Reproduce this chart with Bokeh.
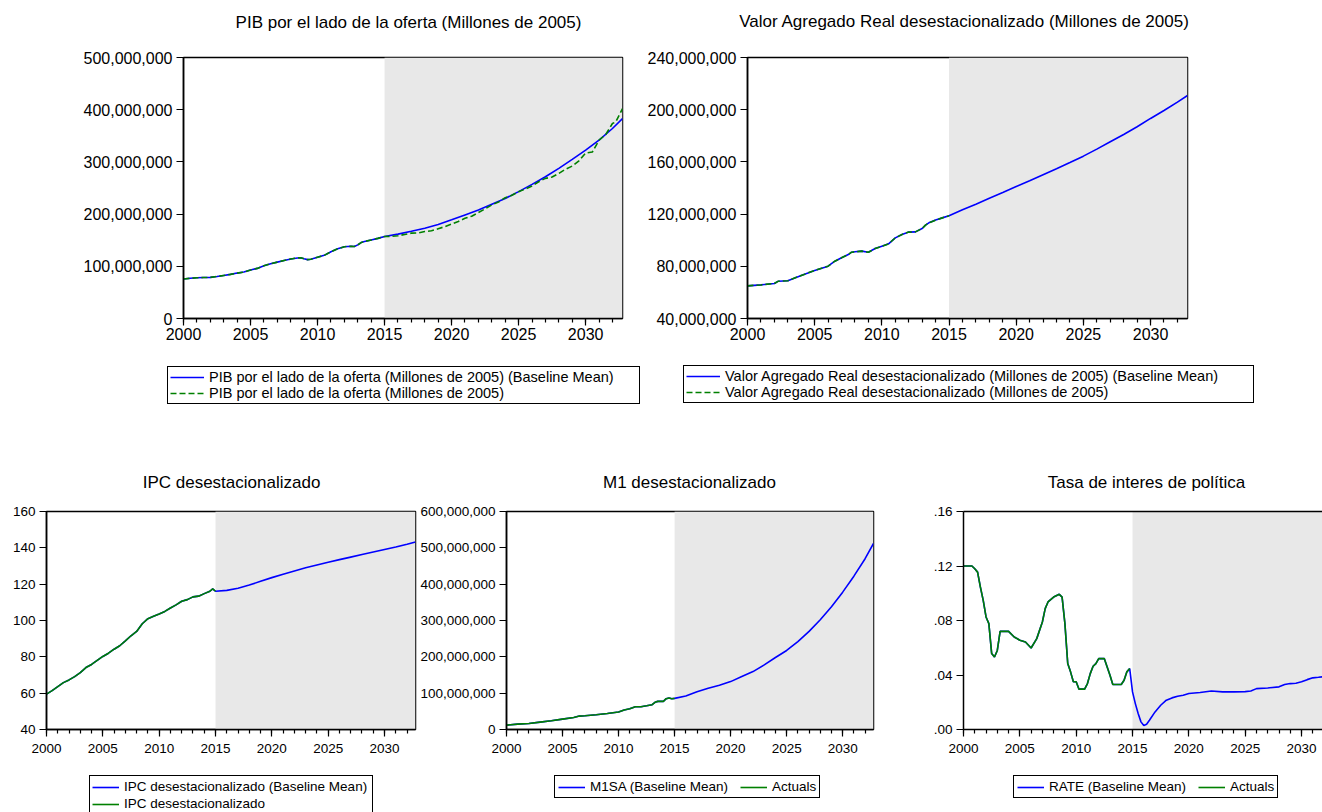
import numpy as np
from bokeh.plotting import figure
from bokeh.models import (Range1d, FixedTicker, NumeralTickFormatter, CustomJSTickFormatter,
                          BoxAnnotation, Legend, LegendItem, Label, LinearAxis)
from bokeh.layouts import column, row
from bokeh.embed import file_html
from bokeh.resources import INLINE

# ---------------- data ----------------
FORECAST_START = 2015
X_END = 2032.75

# PIB (millions)
pib_hist_x = [2000, 2000.5, 2001, 2001.5, 2002, 2002.5, 2003, 2003.5, 2004, 2004.5, 2005, 2005.5,
              2006, 2006.5, 2007, 2007.5, 2008, 2008.5, 2008.75, 2009, 2009.25, 2009.5, 2010, 2010.5,
              2011, 2011.5, 2012, 2012.5, 2012.75, 2013, 2013.25, 2013.5, 2014, 2014.5, 2015]
pib_hist = [75.7, 77.0, 78.0, 78.5, 78.8, 80.5, 82.5, 84.5, 87.0, 89.0, 93.0, 96.0,
            101.0, 105.0, 108.0, 111.0, 114.0, 116.0, 116.5, 114.5, 112.8, 113.5, 117.5, 121.0,
            128.0, 133.5, 137.5, 138.5, 138.0, 141.0, 145.5, 147.5, 150.5, 153.5, 157.0]
pib_mean_fc_x = [2016, 2017, 2018, 2019, 2020, 2021, 2022, 2023, 2024, 2025, 2026, 2027, 2028,
                 2029, 2030, 2031, 2032, 2032.75]
pib_mean_fc = [161.6, 167.0, 173.0, 180.0, 189.0, 198.5, 208.0, 219.0, 230.0, 243.0, 257.0, 271.6,
               287.6, 304.7, 322.5, 341.6, 364.0, 383.0]
pib_act_fc_x = [2015.5, 2016, 2016.5, 2017, 2017.5, 2018, 2018.5, 2019, 2019.5, 2020, 2020.5, 2021,
                2021.5, 2022, 2022.5, 2023, 2023.5, 2024, 2024.5, 2025, 2025.5, 2026, 2026.5, 2027,
                2027.5, 2028, 2028.5, 2029, 2029.5, 2030, 2030.5, 2031, 2031.5, 2032, 2032.25, 2032.75]
pib_act_fc = [157.5, 158.4, 161.0, 163.5, 164.0, 166.6, 168.0, 172.0, 176.0, 181.0, 186.0, 192.0,
              196.0, 203.0, 210.0, 217.6, 223.0, 231.5, 236.0, 243.0, 248.0, 254.0, 262.0, 268.5,
              271.0, 278.0, 286.0, 292.0, 302.0, 317.0, 319.0, 341.6, 352.5, 373.5, 376.6, 402.0]

# Valor agregado (millions)
va_hist_x = [2000, 2001, 2002, 2002.3, 2003, 2004, 2005, 2006, 2006.5, 2007, 2007.5, 2007.75, 2008,
             2008.5, 2009, 2009.5, 2010, 2010.5, 2011, 2011.5, 2012, 2012.5, 2013, 2013.25, 2013.5,
             2014, 2014.5, 2015]
va_hist = [65.0, 65.8, 66.8, 68.6, 68.9, 73.0, 76.8, 80.1, 83.9, 86.5, 89.0, 90.8, 91.1,
           91.6, 90.8, 93.6, 95.4, 97.2, 101.8, 104.4, 106.2, 106.4, 109.0, 111.5, 113.3,
           115.4, 117.1, 118.7]
va_fc_x = [2016, 2017, 2018, 2019, 2020, 2021, 2022, 2023, 2024, 2025, 2026, 2027, 2028, 2029,
           2030, 2031, 2032, 2032.75]
va_fc = [123.3, 127.6, 132.2, 136.6, 141.1, 145.5, 150.1, 154.7, 159.5, 164.4, 169.8, 175.4,
         181.0, 186.9, 193.3, 199.4, 205.8, 210.9]

# IPC
ipc_hist_x = [2000, 2000.5, 2001, 2001.5, 2002, 2002.5, 2003, 2003.5, 2004, 2004.5, 2005, 2005.5,
              2006, 2006.5, 2007, 2007.5, 2008, 2008.5, 2009, 2009.5, 2010, 2010.5, 2011, 2011.5,
              2012, 2012.5, 2013, 2013.5, 2014, 2014.5, 2014.75, 2015]
ipc_hist = [59.5, 61.4, 63.6, 65.8, 67.3, 69.1, 71.3, 74.1, 75.8, 78.0, 80.2, 82.0,
            84.2, 86.1, 88.8, 91.6, 94.0, 98.2, 101.0, 102.3, 103.6, 105.0, 106.9, 108.6,
            110.6, 111.5, 113.0, 113.4, 114.8, 116.1, 117.4, 116.1]
ipc_fc_x = [2016, 2017, 2018, 2019, 2020, 2021, 2022, 2023, 2024, 2025, 2026, 2027, 2028, 2029,
            2030, 2031, 2032, 2032.75]
ipc_fc = [116.6, 117.8, 119.5, 121.6, 123.6, 125.5, 127.3, 129.0, 130.6, 132.1, 133.5, 134.9,
          136.3, 137.7, 139.1, 140.5, 142.0, 143.2]

# M1 (millions)
m1_hist_x = [2000, 2001, 2002, 2003, 2004, 2005, 2006, 2006.5, 2007, 2008, 2009, 2010, 2010.5,
             2011, 2011.5, 2012, 2012.5, 2013, 2013.25, 2013.5, 2014, 2014.25, 2014.5, 2014.75, 2015]
m1_hist = [12.0, 14.7, 16.6, 20.3, 24.0, 28.6, 33.2, 36.9, 37.8, 40.6, 44.2, 48.0, 53.5,
           57.0, 62.7, 62.7, 65.4, 68.2, 74.7, 77.4, 77.4, 84.8, 86.6, 84.8, 85.7]
m1_fc_x = [2016, 2017, 2018, 2019, 2020, 2021, 2022, 2023, 2024, 2025, 2026, 2027, 2028, 2029,
           2030, 2031, 2032, 2032.75]
m1_fc = [92.2, 104.0, 113.4, 121.7, 131.8, 145.6, 159.4, 177.9, 198.2, 217.5, 242.0, 270.0,
         302.0, 338.0, 378.0, 422.0, 470.0, 512.0]

# RATE
rate_hist_x = [2000, 2000.75, 2001, 2001.25, 2001.5, 2001.75, 2002, 2002.25, 2002.5, 2002.75,
               2003, 2003.25, 2004, 2004.5, 2005, 2005.5, 2006, 2006.5, 2007, 2007.25, 2007.5,
               2008, 2008.5, 2008.75, 2009, 2009.25, 2009.5, 2009.75, 2010, 2010.25, 2010.75,
               2011, 2011.25, 2011.5, 2011.75, 2012, 2012.5, 2012.75, 2013, 2013.25, 2013.75,
               2014, 2014.25, 2014.5, 2014.75]
rate_hist = [0.120, 0.120, 0.118, 0.1155, 0.1045, 0.0948, 0.0826, 0.0777, 0.0557, 0.0532,
             0.058, 0.072, 0.072, 0.0679, 0.0655, 0.0642, 0.0598, 0.0667, 0.0789, 0.0887, 0.0936,
             0.0972, 0.0992, 0.0972, 0.0777, 0.0484, 0.0423, 0.035, 0.035, 0.0296, 0.0296,
             0.0337, 0.041, 0.0464, 0.0484, 0.052, 0.052, 0.0459, 0.0398, 0.033, 0.033,
             0.033, 0.0361, 0.0423, 0.0447]
rate_fc_x = [2015, 2015.25, 2015.5, 2015.75, 2016, 2016.25, 2016.5, 2017, 2017.5, 2018, 2018.5,
             2019, 2019.5, 2020, 2021, 2022, 2023, 2024, 2025, 2025.5, 2026, 2027, 2028, 2028.5,
             2029, 2029.5, 2030, 2030.5, 2031, 2031.5, 2032, 2032.75]
rate_fc = [0.0276, 0.019, 0.0117, 0.0056, 0.0029, 0.0039, 0.0068, 0.0129, 0.0178, 0.0215, 0.0232,
           0.0244, 0.0252, 0.0264, 0.0271, 0.0283, 0.0276, 0.0276, 0.0278, 0.0283, 0.030, 0.0305,
           0.0313, 0.033, 0.0337, 0.034, 0.035, 0.0366, 0.0379, 0.0383, 0.0388, 0.0395]

x_major = list(range(2000, 2031, 5))
x_minor = list(range(2000, 2033))

MILL = 1e6

# ---------------- styling ----------------
FONT = "Liberation Sans"
BLUE = "#0000ff"
GREEN = "#008000"
SHADE = "#e8e8e8"
LW = 1.6
PAGE_W = 1322


def base_fig(w, h, mbl, mbr, mbt, mbb, x_end, y0, y1, yticks, yfmt, tick_px, x_standoff,
             outline=True):
    p = figure(width=w, height=h, x_range=Range1d(2000, x_end), y_range=Range1d(y0, y1),
               output_backend="svg", toolbar_location=None,
               min_border_left=mbl, min_border_right=mbr, min_border_top=mbt, min_border_bottom=mbb)
    p.xgrid.visible = False
    p.ygrid.visible = False
    p.background_fill_color = "white"
    p.border_fill_color = "white"
    if outline:
        p.outline_line_color = "black"
        p.outline_line_width = 1.5
        p.outline_line_alpha = 1
    else:
        p.outline_line_color = None
    p.add_layout(BoxAnnotation(left=FORECAST_START, fill_color=SHADE, fill_alpha=1,
                               line_alpha=0, level="underlay"))
    xa = p.xaxis[0]
    ya = p.yaxis[0]
    xa.ticker = FixedTicker(ticks=x_major, minor_ticks=x_minor)
    ya.ticker = FixedTicker(ticks=yticks, minor_ticks=[])
    if yfmt is not None:
        ya.formatter = yfmt
    for ax in (xa, ya):
        ax.axis_line_color = "black"
        ax.axis_line_width = 1.5
        ax.major_tick_line_color = "black"
        ax.major_tick_line_width = 1.2
        ax.minor_tick_line_color = "black"
        ax.minor_tick_line_width = 1.2
        ax.major_tick_in = 0
        ax.major_tick_out = 7
        ax.minor_tick_in = 0
        ax.minor_tick_out = 4
        ax.major_label_text_font = FONT
        ax.major_label_text_font_size = tick_px
        ax.major_label_text_color = "black"
    xa.major_label_standoff = x_standoff
    ya.major_label_standoff = 4
    if not outline:
        top = LinearAxis(ticker=FixedTicker(ticks=[], minor_ticks=[]),
                         major_label_text_font_size="0px", axis_line_color="black",
                         axis_line_width=1.5, major_tick_out=0, minor_tick_out=0)
        p.add_layout(top, "above")
    return p


def strip(h):
    """A blank band (no axes) used to hold titles and legends, in pixel units."""
    s = figure(width=PAGE_W, height=h, x_range=Range1d(0, PAGE_W), y_range=Range1d(0, h),
               output_backend="svg", toolbar_location=None, x_axis_type=None, y_axis_type=None,
               min_border=0)
    s.grid.visible = False
    s.outline_line_color = None
    s.background_fill_color = "white"
    s.border_fill_color = "white"
    return s


def add_title(s, text, cx, cy, size="17px"):
    s.add_layout(Label(x=cx, y=cy, text=text, text_font=FONT, text_font_size=size,
                       text_align="center", text_baseline="middle", text_color="black"))


def add_legend(s, entries, loc, orient, font_px, glyph_w, pad, label_w=20, spacing=0,
               label_h=12):
    items = []
    for label, color, dash in entries:
        # legend swatch carrier: a line with no visible data
        r = s.line(x=np.array([np.nan, np.nan]), y=np.array([np.nan, np.nan]),
                   line_color=color, line_width=LW, line_dash=dash)
        items.append(LegendItem(label=label, renderers=[r]))
    leg = Legend(items=items, location=loc, orientation=orient,
                 border_line_color="black", border_line_width=1, border_line_alpha=1,
                 background_fill_color="white", background_fill_alpha=1,
                 label_text_font=FONT, label_text_font_size=font_px, label_text_color="black",
                 glyph_width=glyph_w, glyph_height=12, label_height=label_h, label_width=label_w,
                 label_standoff=5, spacing=spacing, padding=pad, margin=0)
    s.add_layout(leg)


# ---------------- top titles ----------------
T1_H = 40
s_top = strip(T1_H)
add_title(s_top, "PIB por el lado de la oferta (Millones de 2005)", 408, T1_H - 22)
add_title(s_top, "Valor Agregado Real desestacionalizado (Millones de 2005)", 964, T1_H - 21)

# ---------------- top row ----------------
TOP_MBT, TOP_FH, TOP_MBB = 17, 261, 32
TOP_H = TOP_MBT + TOP_FH + TOP_MBB

pA = base_fig(642, TOP_H, 183, 20, TOP_MBT, TOP_MBB, X_END, 0, 500 * MILL,
              [i * 100 * MILL for i in range(6)], NumeralTickFormatter(format="0,0"), "16px", 2)
pA.line(pib_hist_x + pib_mean_fc_x, [v * MILL for v in pib_hist + pib_mean_fc],
        line_color=BLUE, line_width=LW)
pA.line(pib_hist_x + pib_act_fc_x, [v * MILL for v in pib_hist + pib_act_fc],
        line_color=GREEN, line_width=LW, line_dash="6 3")

pB = base_fig(565, TOP_H, 105, 20, TOP_MBT, TOP_MBB, X_END, 40 * MILL, 240 * MILL,
              [i * 40 * MILL for i in range(1, 7)], NumeralTickFormatter(format="0,0"), "16px", 2)
pB.line(va_hist_x + va_fc_x, [v * MILL for v in va_hist + va_fc], line_color=BLUE, line_width=LW)
pB.line(va_hist_x, [v * MILL for v in va_hist], line_color=GREEN, line_width=LW, line_dash="6 3")

# ---------------- middle band: top legends + bottom titles ----------------
MID_TOP = T1_H + TOP_H          # screen y where the band starts
MID_H = 500 - MID_TOP
s_mid = strip(MID_H)
add_legend(s_mid, [("PIB por el lado de la oferta (Millones de 2005) (Baseline Mean)", BLUE, "solid"),
                   ("PIB por el lado de la oferta (Millones de 2005)", GREEN, "6 3")],
           (167, MID_H - (404 - MID_TOP)), "vertical", "14.5px", 34, 2, label_w=428)
add_legend(s_mid, [("Valor Agregado Real desestacionalizado (Millones de 2005) (Baseline Mean)", BLUE, "solid"),
                   ("Valor Agregado Real desestacionalizado (Millones de 2005)", GREEN, "6 3")],
           (683, MID_H - (403 - MID_TOP)), "vertical", "14.5px", 34, 2, label_w=526)
add_title(s_mid, "IPC desestacionalizado", 231, MID_H - (482 - MID_TOP))
add_title(s_mid, "M1 desestacionalizado", 689, MID_H - (482 - MID_TOP))
add_title(s_mid, "Tasa de interes de política", 1146, MID_H - (482 - MID_TOP))

# ---------------- bottom row ----------------
BOT_MBT, BOT_FH, BOT_MBB = 11, 218, 32
BOT_H = BOT_MBT + BOT_FH + BOT_MBB
BOT_XEND_E = 2031.86

pC = base_fig(417, BOT_H, 46, 2, BOT_MBT, BOT_MBB, X_END, 40, 160,
              list(range(40, 161, 20)), None, "13.5px", 7)
pC.line(ipc_hist_x + ipc_fc_x, ipc_hist + ipc_fc, line_color=BLUE, line_width=LW)
pC.line(ipc_hist_x, ipc_hist, line_color=GREEN, line_width=LW)

pD = base_fig(486, BOT_H, 87, 30, BOT_MBT, BOT_MBB, X_END, 0, 600 * MILL,
              [i * 100 * MILL for i in range(7)], NumeralTickFormatter(format="0,0"), "13.5px", 7)
pD.line(m1_hist_x + m1_fc_x, [v * MILL for v in m1_hist + m1_fc], line_color=BLUE, line_width=LW)
pD.line(m1_hist_x, [v * MILL for v in m1_hist], line_color=GREEN, line_width=LW)

pE = base_fig(419, BOT_H, 60, 0, BOT_MBT, BOT_MBB, BOT_XEND_E, 0, 0.16,
              [0, 0.04, 0.08, 0.12, 0.16],
              CustomJSTickFormatter(code="return tick.toFixed(2).replace(/^0/, '');"),
              "13.5px", 7, outline=False)
pE.line(rate_hist_x + rate_fc_x, rate_hist + rate_fc, line_color=BLUE, line_width=LW)
pE.line(rate_hist_x, rate_hist, line_color=GREEN, line_width=LW)

# ---------------- bottom legends ----------------
BOT_TOP = 500 + BOT_H
LEG_H = 812 - BOT_TOP
s_bot = strip(LEG_H)
add_legend(s_bot, [("IPC desestacionalizado (Baseline Mean)", BLUE, "solid"),
                   ("IPC desestacionalizado", GREEN, "solid")],
           (89, -3), "vertical", "13.5px", 27, 2, label_w=246, label_h=17)
add_legend(s_bot, [("M1SA (Baseline Mean)", BLUE, "solid"), ("Actuals", GREEN, "solid")],
           (554, LEG_H - (798 - BOT_TOP)), "horizontal", "13.5px", 27, 3, spacing=12)
add_legend(s_bot, [("RATE (Baseline Mean)", BLUE, "solid"), ("Actuals", GREEN, "solid")],
           (1013, LEG_H - (798 - BOT_TOP)), "horizontal", "13.5px", 27, 3, spacing=12)

layout = column(s_top, row(pA, pB), s_mid, row(pC, pD, pE), s_bot)

open("out.html", "w").write(file_html(layout, INLINE))
